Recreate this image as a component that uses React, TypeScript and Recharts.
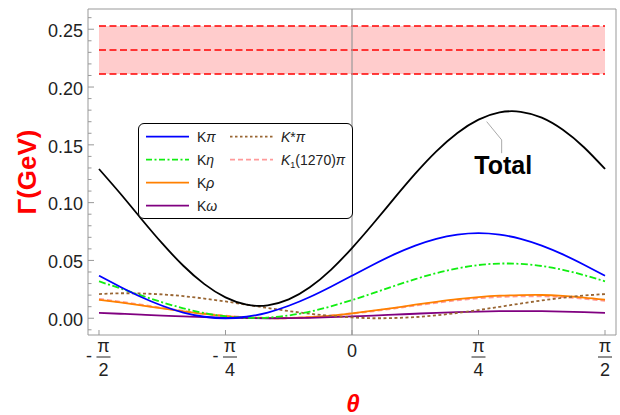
import {
  Legend,
  Line,
  LineChart,
  ReferenceArea,
  ReferenceDot,
  ReferenceLine,
  XAxis,
  YAxis,
} from "recharts";

// mixing angle theta, in degrees
const theta = [
  -90, -82.5, -75, -67.5, -60, -52.5, -45, -37.5, -30, -22.5, -15, -7.5, 0,
  7.5, 15, 22.5, 30, 37.5, 45, 52.5, 60, 67.5, 75, 82.5, 90,
];

// partial widths, GeV
const total = [
  0.1291, 0.1081, 0.0861, 0.0647, 0.0454, 0.0295, 0.018, 0.0117, 0.0112,
  0.0163, 0.0268, 0.0419, 0.0607, 0.0817, 0.1037, 0.1251, 0.1444, 0.1603,
  0.1718, 0.1781, 0.1786, 0.1735, 0.163, 0.1479, 0.1291,
];
const kPi = [
  0.0368, 0.0273, 0.0184, 0.0108, 0.0049, 0.0013, 0.0, 0.0013, 0.0049, 0.0108,
  0.0184, 0.0273, 0.0368, 0.0463, 0.0552, 0.0628, 0.0687, 0.0723, 0.0736,
  0.0723, 0.0687, 0.0628, 0.0552, 0.0463, 0.0368,
];
const kEta = [
  0.0319, 0.0259, 0.0197, 0.0138, 0.0086, 0.0045, 0.0016, 0.0003, 0.0006,
  0.0024, 0.0057, 0.0103, 0.0157, 0.0217, 0.0279, 0.0338, 0.039, 0.0431,
  0.046, 0.0473, 0.047, 0.0452, 0.0419, 0.0373, 0.0319,
];
const kRho = [
  0.016, 0.0137, 0.0112, 0.0085, 0.006, 0.0037, 0.0019, 0.0007, 0.0001, 0.0001,
  0.0009, 0.0023, 0.0042, 0.0065, 0.009, 0.0117, 0.0142, 0.0165, 0.0183,
  0.0195, 0.02, 0.0201, 0.0193, 0.0179, 0.016,
];
const kOmega = [
  0.0047, 0.0039, 0.0031, 0.0023, 0.0016, 0.0009, 0.0004, 0.0001, 0.0, 0.0001,
  0.0004, 0.0009, 0.0016, 0.0023, 0.0031, 0.0039, 0.0047, 0.0053, 0.0058,
  0.0061, 0.0062, 0.0061, 0.0058, 0.0053, 0.0047,
];
const kStarPi = [
  0.0209, 0.0216, 0.0214, 0.0206, 0.0191, 0.017, 0.0145, 0.0117, 0.0089,
  0.0062, 0.0039, 0.002, 0.0007, 0.0, 0.0002, 0.001, 0.0025, 0.0046, 0.0071,
  0.0099, 0.0127, 0.0154, 0.0177, 0.0196, 0.0209,
];
const k1Pi = [
  0.0166, 0.0142, 0.0116, 0.0089, 0.0063, 0.004, 0.0021, 0.0008, 0.0002,
  0.0002, 0.0009, 0.0022, 0.0041, 0.0062, 0.0086, 0.0111, 0.0135, 0.0157,
  0.0174, 0.0186, 0.0191, 0.0191, 0.0184, 0.017, 0.0152,
];

// experimental band: lower, central, upper
const bandLevels = [0.2113, 0.2321, 0.2529];

const xTicks = [-90, -45, 0, 45, 90];
const xTickLabels = ["-π/2", "-π/4", "0", "π/4", "π/2"];
const yTicks = [
  -0.01, 0, 0.01, 0.02, 0.03, 0.04, 0.05, 0.06, 0.07, 0.08, 0.09, 0.1, 0.11,
  0.12, 0.13, 0.14, 0.15, 0.16, 0.17, 0.18, 0.19, 0.2, 0.21, 0.22, 0.23, 0.24,
  0.25, 0.26,
];

const X_DOMAIN: [number, number] = [-93.91, 93.91];
const Y_DOMAIN: [number, number] = [-0.0145, 0.2675];

const data = theta.map((t, i) => ({
  theta: t,
  total: total[i],
  kpi: kPi[i],
  keta: kEta[i],
  krho: kRho[i],
  komega: kOmega[i],
  kstarpi: kStarPi[i],
  k1pi: k1Pi[i],
}));

const FONT = "'Liberation Sans', Arial, sans-serif";
const FRAME = "#999";

const legendItems = [
  { key: "kpi", color: "#0000ff", dash: undefined, label: <>K<tspan fontStyle="italic">π</tspan></> },
  { key: "keta", color: "#11ee11", dash: "6 2.5 2 2.5", label: <>K<tspan fontStyle="italic">η</tspan></> },
  { key: "krho", color: "#ff8000", dash: undefined, label: <>K<tspan fontStyle="italic">ρ</tspan></> },
  { key: "komega", color: "#800080", dash: undefined, label: <>K<tspan fontStyle="italic">ω</tspan></> },
  { key: "kstarpi", color: "#996633", dash: "2.5 2.5", label: <><tspan fontStyle="italic">K</tspan>*<tspan fontStyle="italic">π</tspan></> },
  {
    key: "k1pi",
    color: "#ff9a9a",
    dash: "5 3",
    label: (
      <>
        <tspan fontStyle="italic">K</tspan>
        <tspan fontSize={9} dy={3}>1</tspan>
        <tspan dy={-3}>(1270)</tspan>
        <tspan fontStyle="italic">π</tspan>
      </>
    ),
  },
];

// drawing order for the curves
const curves = [
  { key: "k1pi", color: "#ff9a9a", dash: "5 3", width: 2.2 },
  { key: "krho", color: "#ff8000", dash: undefined, width: 1.8 },
  { key: "komega", color: "#800080", dash: undefined, width: 1.8 },
  { key: "kstarpi", color: "#996633", dash: "3 2.5", width: 1.8 },
  { key: "keta", color: "#11ee11", dash: "7 2.5 2 2.5", width: 1.8 },
  { key: "kpi", color: "#0000ff", dash: undefined, width: 1.8 },
  { key: "total", color: "#000", dash: undefined, width: 1.8 },
];

function renderLegend() {
  return (
    <div
      style={{
        width: 215,
        height: 96,
        border: "1px solid #000",
        borderRadius: 6,
        background: "#fff",
        boxSizing: "border-box",
      }}
    >
      <svg width={213} height={94} style={{ display: "block" }}>
        {legendItems.map((it, i) => {
          const x0 = i < 4 ? 7 : 91;
          const y = 12.7 + (i % 4) * 23;
          return (
            <g key={it.key}>
              <line x1={x0} x2={x0 + 43} y1={y} y2={y} stroke={it.color} strokeWidth={1.8} strokeDasharray={it.dash} />
              <text x={x0 + 51} y={y + 5} fontSize={14} fontFamily={FONT} fill="#222">
                {it.label}
              </text>
            </g>
          );
        })}
      </svg>
    </div>
  );
}

function XTick(props: any) {
  const { x, y, index } = props;
  const label = xTickLabels[index] ?? String(props.payload.value);
  const tick = <line x1={x} x2={x} y1={y} y2={y - 5} stroke={FRAME} />;
  if (!label.includes("/")) {
    return (
      <g>
        {tick}
        <text x={x} y={y + 22} textAnchor="middle" fontSize={18} fontFamily={FONT} fill="#222">
          {label}
        </text>
      </g>
    );
  }
  const neg = label.startsWith("-");
  const [num, den] = label.replace("-", "").split("/");
  const fx = neg ? x + 4.5 : x;
  return (
    <g fontFamily={FONT} fontSize={18} fill="#222">
      {tick}
      {neg && (
        <text x={x - 10} y={y + 27} textAnchor="middle">
          -
        </text>
      )}
      <text x={fx} y={y + 17} textAnchor="middle">
        {num}
      </text>
      <line x1={fx - 7} x2={fx + 7} y1={y + 22} y2={y + 22} stroke="#222" strokeWidth={1} />
      <text x={fx} y={y + 41} textAnchor="middle">
        {den}
      </text>
    </g>
  );
}

function YTick(props: any) {
  const { x, y, payload } = props;
  const v = payload.value as number;
  const major = Math.round(v * 100) % 5 === 0;
  return (
    <g>
      <line x1={x} x2={x + (major ? 6 : 3.5)} y1={y} y2={y} stroke={FRAME} />
      {major && (
        <text x={x - 5} y={y} dy="0.43em" textAnchor="end" fontSize={18} fontFamily={FONT} fill="#222">
          {v.toFixed(2)}
        </text>
      )}
    </g>
  );
}

function TotalLabel(props: any) {
  const { cx, cy } = props;
  return (
    <g>
      <path d={`M${cx},${cy} L${cx + 15},${cy + 18.3} L${cx + 15},${cy + 31.6}`} fill="none" stroke="#aaa" strokeWidth={1} />
      <text x={cx + 16.5} y={cy + 52.3} textAnchor="middle" fontSize={25} fontWeight="bold" fontFamily={FONT} fill="#000">
        Total
      </text>
    </g>
  );
}

export default function App() {
  return (
    <>
      <style>{"body{margin:0}"}</style>
      <LineChart width={620} height={415} data={data} margin={{ top: 9, right: 4, bottom: 0, left: 0 }}>
        <XAxis
          dataKey="theta"
          type="number"
          domain={X_DOMAIN}
          ticks={xTicks}
          interval={0}
          axisLine={false}
          tickLine={false}
          tickSize={0}
          tickMargin={0}
          height={80}
          tick={<XTick />}
          label={(p: any) => (
            <text
              x={p.viewBox.x + 265}
              y={p.viewBox.y + 76.5}
              textAnchor="middle"
              fontSize={24}
              fontWeight="bold"
              fontStyle="italic"
              fontFamily={FONT}
              fill="#ff0000"
            >
              θ
            </text>
          )}
        />
        <YAxis
          type="number"
          domain={Y_DOMAIN}
          ticks={yTicks}
          interval={0}
          allowDataOverflow
          axisLine={false}
          tickLine={false}
          tickSize={0}
          tickMargin={0}
          width={88}
          tick={<YTick />}
          label={(p: any) => {
            const cx = p.viewBox.x + 27;
            const cy = p.viewBox.y + p.viewBox.height / 2;
            return (
              <text
                x={cx}
                y={cy}
                dy="0.35em"
                transform={`rotate(-90 ${cx} ${cy})`}
                textAnchor="middle"
                fontSize={26}
                fontWeight="bold"
                fontFamily={FONT}
                fill="#ff0000"
              >
                Γ(GeV)
              </text>
            );
          }}
        />
        <ReferenceArea
          x1={X_DOMAIN[0]}
          x2={X_DOMAIN[1]}
          y1={Y_DOMAIN[0]}
          y2={Y_DOMAIN[1]}
          fill="none"
          stroke={FRAME}
          strokeWidth={1}
          ifOverflow="visible"
        />
        <ReferenceArea
          x1={-90}
          x2={90}
          y1={bandLevels[0]}
          y2={bandLevels[2]}
          fill="#ffcccc"
          fillOpacity={1}
          stroke="none"
        />
        {bandLevels.map((lv) => (
          <ReferenceLine
            key={lv}
            segment={[
              { x: -90, y: lv },
              { x: 90, y: lv },
            ]}
            stroke="#ff0000"
            strokeWidth={1.5}
            strokeDasharray="7 3.5"
          />
        ))}
        <ReferenceLine x={0} stroke="#999" strokeWidth={1.2} />
        {curves.map((c) => (
          <Line
            key={c.key}
            dataKey={c.key}
            type="natural"
            stroke={c.color}
            strokeWidth={c.width}
            strokeDasharray={c.dash}
            dot={false}
            activeDot={false}
            isAnimationActive={false}
          />
        ))}
        <ReferenceDot x={47.9} y={0.1701} r={0} shape={<TotalLabel />} ifOverflow="visible" />
        <Legend
          verticalAlign="middle"
          align="center"
          layout="horizontal"
          content={renderLegend}
          wrapperStyle={{ position: "absolute", left: 138, top: 123, width: 215, height: 96 }}
        />
      </LineChart>
    </>
  );
}
